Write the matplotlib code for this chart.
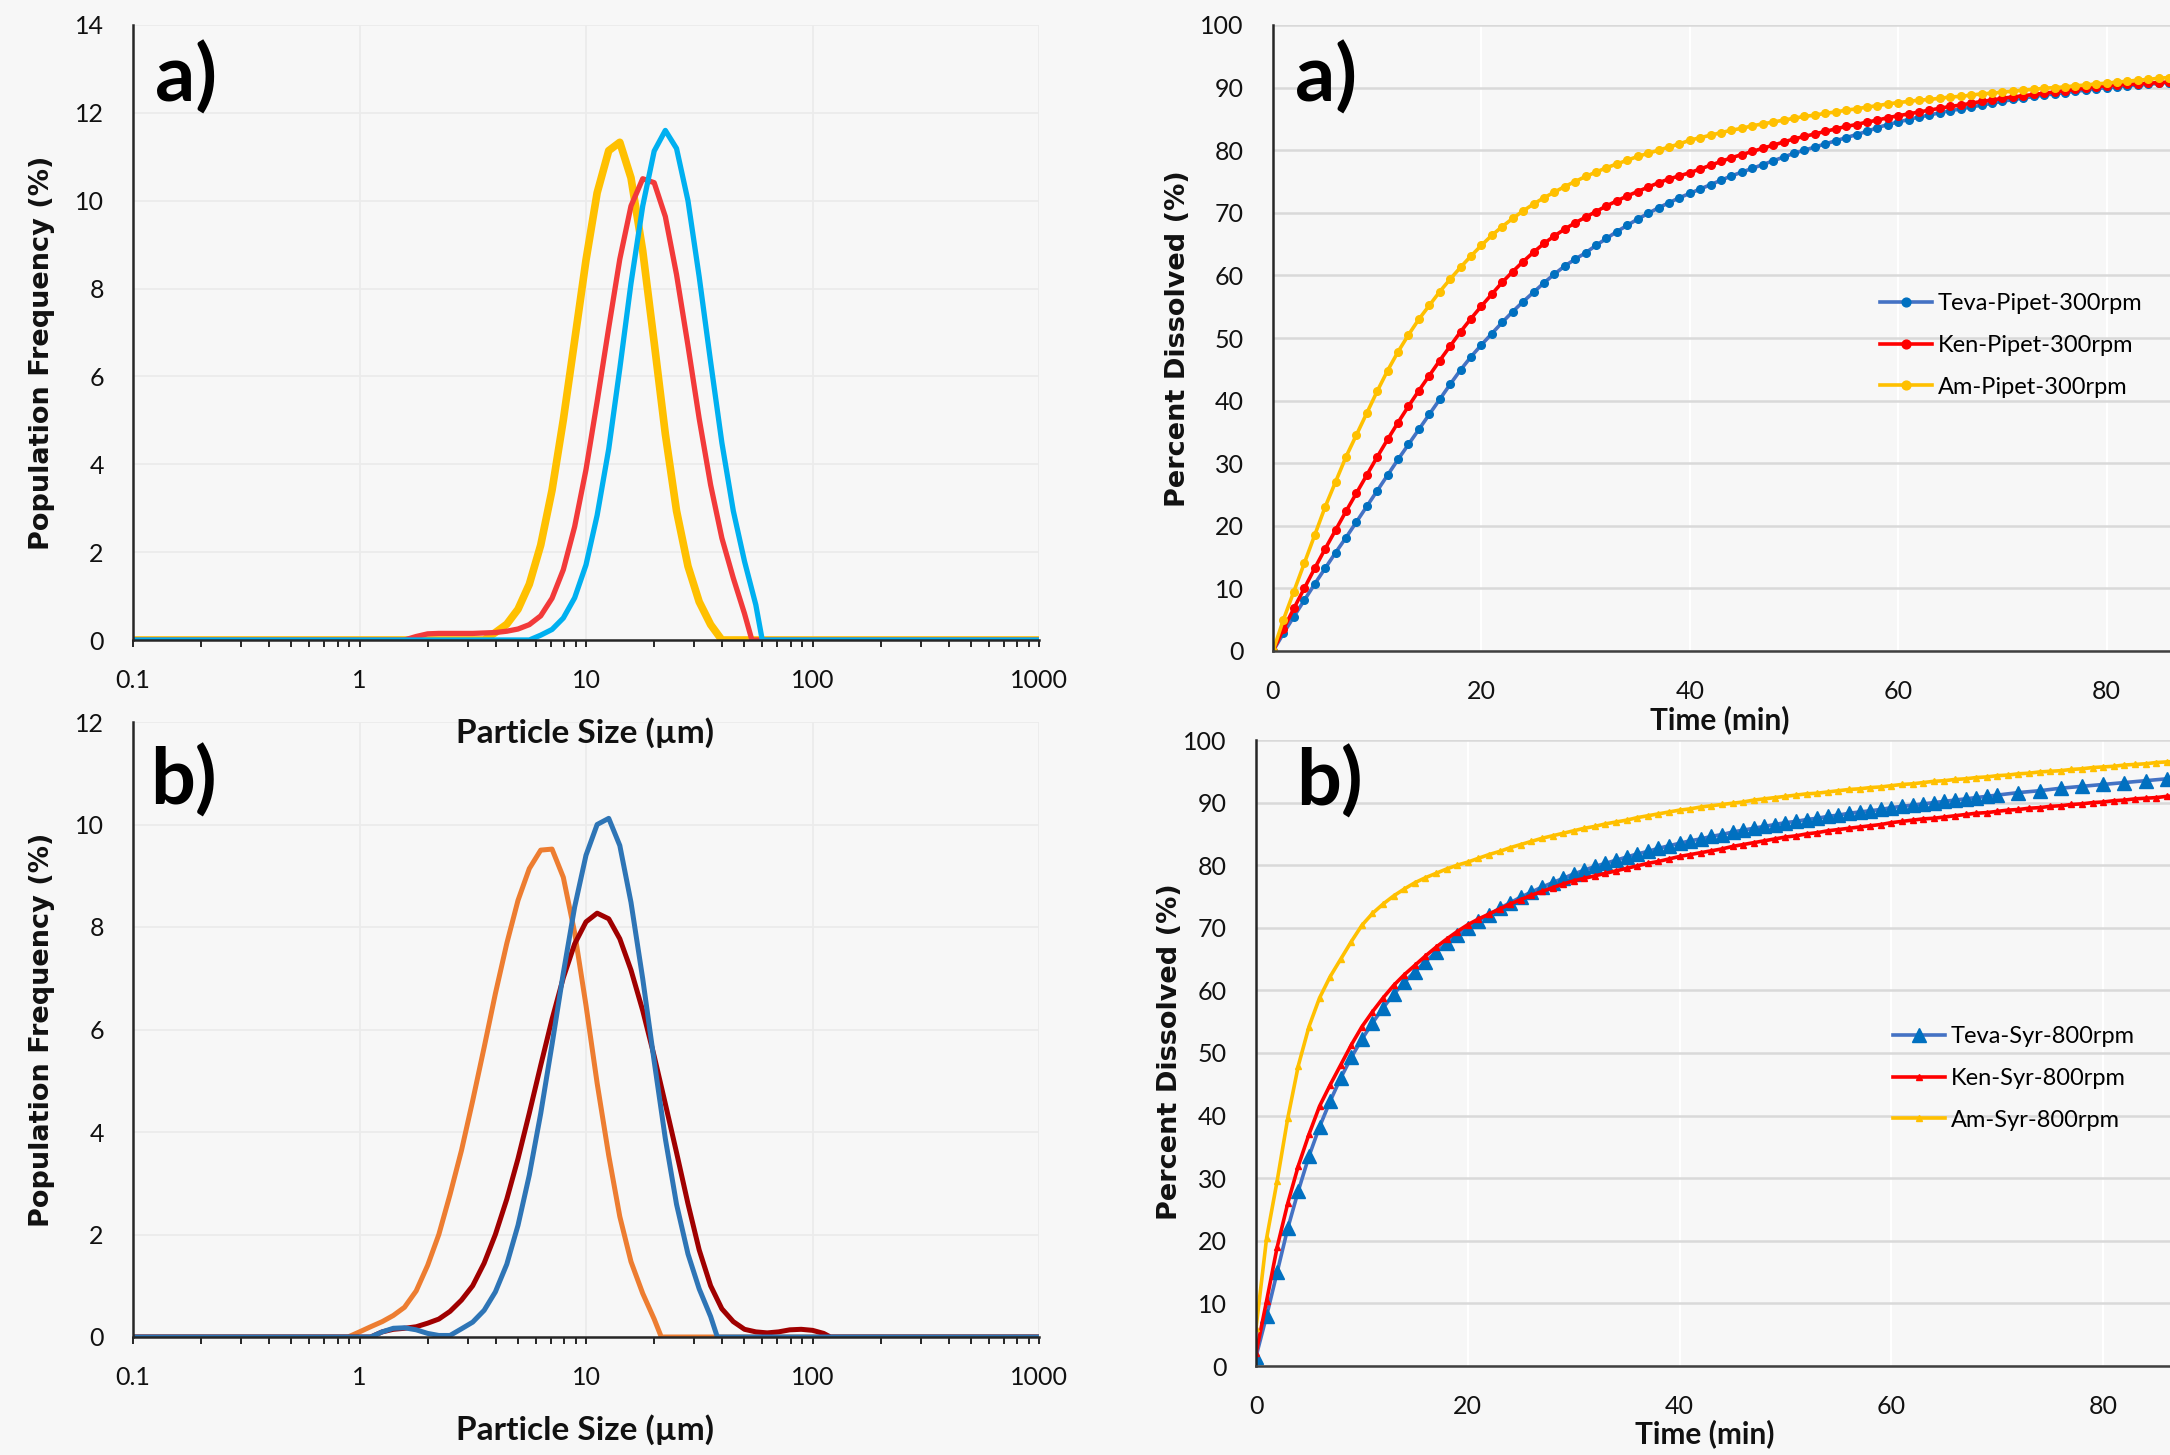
import matplotlib
matplotlib.use('Agg')
import matplotlib.pyplot as plt

W, H = 2170, 1455
BG = '#f7f7f7'

# ---- a) particle size distributions, top left (size in um, frequency in %) ----
size_am_a = [0.1, 3.55, 3.98, 4.47, 5.01, 5.62, 6.31, 7.08, 7.94, 8.91, 10.0, 11.2, 12.6, 14.1,
             15.8, 17.8, 20.0, 22.4, 25.1, 28.2, 31.6, 35.5, 39.8, 1000]
freq_am_a = [0, 0, 0.17, 0.36, 0.70, 1.27, 2.16, 3.41, 5.01, 6.82, 8.65, 10.18, 11.14, 11.33,
             10.52, 8.86, 6.77, 4.69, 2.94, 1.68, 0.87, 0.35, 0, 0]

size_ken_a = [0.1, 1.58, 1.78, 2.0, 2.24, 2.51, 2.82, 3.16, 3.55, 3.98, 4.47, 5.01, 5.62, 6.31,
              7.08, 7.94, 8.91, 10.0, 11.2, 12.6, 14.1, 15.8, 17.8, 20.0, 22.4, 25.1, 28.2,
              31.6, 35.5, 39.8, 44.7, 50.1, 54.0, 1000]
freq_ken_a = [0, 0, 0.08, 0.14, 0.15, 0.15, 0.15, 0.15, 0.16, 0.17, 0.2, 0.25, 0.35, 0.55,
              0.95, 1.6, 2.58, 3.88, 5.43, 7.11, 8.67, 9.88, 10.5, 10.41, 9.64, 8.32, 6.7,
              5.04, 3.53, 2.32, 1.41, 0.6, 0, 0]

size_teva_a = [0.1, 5.62, 6.31, 7.08, 7.94, 8.91, 10.0, 11.2, 12.6, 14.1, 15.8, 17.8, 20.0,
               22.4, 25.1, 28.2, 31.6, 35.5, 39.8, 44.7, 50.1, 56.2, 60.0, 1000]
freq_teva_a = [0, 0, 0.11, 0.24, 0.5, 0.96, 1.71, 2.84, 4.35, 6.18, 8.12, 9.88, 11.13,
               11.6, 11.19, 10.0, 8.27, 6.33, 4.49, 2.94, 1.79, 0.8, 0, 0]

# ---- b) particle size distributions, bottom left ----
size_orange_b = [0.1, 0.89, 1.0, 1.12, 1.26, 1.41, 1.58, 1.78, 2.0, 2.24, 2.51, 2.82, 3.16,
                 3.55, 3.98, 4.47, 5.01, 5.62, 6.31, 7.08, 7.94, 8.91, 10.0, 11.2, 12.6, 14.1,
                 15.8, 17.8, 20.0, 21.5, 1000]
freq_orange_b = [0, 0, 0.1, 0.2, 0.3, 0.42, 0.58, 0.9, 1.4, 2.0, 2.78, 3.64, 4.61,
                 5.65, 6.7, 7.68, 8.52, 9.14, 9.5, 9.52, 8.97, 7.89, 6.47, 4.95, 3.54, 2.35,
                 1.47, 0.85, 0.35, 0, 0]

size_darkred_b = [0.1, 1.12, 1.26, 1.41, 1.58, 1.78, 2.0, 2.24, 2.51, 2.82, 3.16, 3.55, 3.98,
                  4.47, 5.01, 5.62, 6.31, 7.08, 7.94, 8.91, 10.0, 11.2, 12.6, 14.1, 15.8, 17.8,
                  20.0, 22.4, 25.1, 28.2, 31.6, 35.5, 39.8, 44.7, 50.1, 56.2, 63.1, 70.8, 79.4,
                  89.1, 100, 112, 120, 1000]
freq_darkred_b = [0, 0, 0.1, 0.15, 0.17, 0.2, 0.27, 0.35, 0.5, 0.72, 1.0, 1.44, 2.0,
                  2.69, 3.48, 4.37, 5.3, 6.2, 7.01, 7.67, 8.1, 8.27, 8.16, 7.77, 7.16, 6.37,
                  5.48, 4.55, 3.6, 2.6, 1.7, 1.0, 0.55, 0.3, 0.15, 0.1, 0.08, 0.1, 0.14,
                  0.15, 0.13, 0.07, 0, 0]

size_blue_b = [0.1, 1.12, 1.26, 1.41, 1.58, 1.78, 2.0, 2.24, 2.51, 2.82, 3.16, 3.55, 3.98,
               4.47, 5.01, 5.62, 6.31, 7.08, 7.94, 8.91, 10.0, 11.2, 12.6, 14.1, 15.8, 17.8,
               20.0, 22.4, 25.1, 28.2, 31.6, 35.5, 38.0, 1000]
freq_blue_b = [0, 0, 0.1, 0.17, 0.18, 0.14, 0.07, 0.03, 0.03, 0.16, 0.29, 0.52, 0.88,
               1.42, 2.18, 3.16, 4.36, 5.71, 7.1, 8.39, 9.4, 10.0, 10.12, 9.59, 8.48, 6.99,
               5.38, 3.87, 2.59, 1.62, 0.94, 0.4, 0, 0]

# ---- a) dissolution, pipet 300 rpm (time in min, percent dissolved) ----
time_pipet = list(range(0, 88))
teva_pipet = [0, 2.8, 5.5, 8.1, 10.7, 13.2, 15.7, 18.1, 20.6, 23.1,
              25.6, 28.1, 30.6, 33, 35.4, 37.8, 40.2, 42.6, 44.9, 47,
              48.9, 50.7, 52.5, 54.2, 55.8, 57.3, 58.8, 60.2, 61.5, 62.6,
              63.6, 64.8, 65.9, 67, 68, 69, 69.9, 70.8, 71.6, 72.4,
              73.1, 73.8, 74.5, 75.2, 75.9, 76.5, 77.1, 77.7, 78.3, 78.9,
              79.5, 80, 80.5, 81, 81.5, 82, 82.5, 83, 83.6, 84.1,
              84.5, 84.9, 85.3, 85.6, 86, 86.3, 86.6, 86.9, 87.2, 87.5,
              87.8, 88.1, 88.3, 88.6, 88.8, 89, 89.2, 89.4, 89.6, 89.8,
              90, 90.1, 90.3, 90.4, 90.5, 90.7, 90.8, 90.9]
ken_pipet = [0, 3.5, 6.8, 10, 13.2, 16.3, 19.3, 22.3, 25.2, 28.1,
             31, 33.8, 36.5, 39.1, 41.6, 44, 46.4, 48.7, 51, 53.1,
             55.1, 57, 58.9, 60.6, 62.2, 63.7, 65.1, 66.3, 67.4, 68.4,
             69.3, 70.2, 71.1, 71.9, 72.7, 73.4, 74.1, 74.8, 75.4, 75.9,
             76.4, 77, 77.6, 78.2, 78.8, 79.3, 79.8, 80.3, 80.8, 81.3,
             81.8, 82.2, 82.6, 83, 83.4, 83.8, 84.1, 84.5, 84.8, 85.2,
             85.5, 85.8, 86.1, 86.4, 86.7, 87, 87.2, 87.5, 87.8, 88,
             88.3, 88.5, 88.7, 88.9, 89.1, 89.3, 89.5, 89.7, 89.9, 90.1,
             90.3, 90.4, 90.5, 90.6, 90.7, 90.8, 90.9, 91]
am_pipet = [0, 5, 9.5, 14, 18.5, 23, 27, 31, 34.5, 38,
            41.5, 44.8, 47.8, 50.5, 53, 55.2, 57.4, 59.4, 61.3, 63.1,
            64.8, 66.4, 67.8, 69.1, 70.3, 71.4, 72.4, 73.3, 74.2, 75,
            75.8, 76.5, 77.2, 77.8, 78.4, 79, 79.5, 80, 80.5, 81,
            81.6, 82, 82.4, 82.8, 83.2, 83.5, 83.9, 84.2, 84.5, 84.8,
            85.1, 85.4, 85.6, 85.9, 86.1, 86.4, 86.6, 86.9, 87.1, 87.4,
            87.6, 87.8, 88, 88.1, 88.3, 88.5, 88.6, 88.8, 89, 89.1,
            89.3, 89.4, 89.6, 89.7, 89.9, 90, 90.1, 90.3, 90.4, 90.6,
            90.7, 90.9, 91, 91.2, 91.3, 91.5, 91.6, 91.7]

# ---- b) dissolution, syringe 800 rpm ----
time_syr = list(range(0, 88))
time_teva_syr = list(range(0, 71)) + list(range(72, 89, 2))
teva_syr = [1.5, 8, 15, 22, 28, 33.5, 38.2, 42.3, 46, 49.3,
            52.2, 54.8, 57.2, 59.4, 61.3, 63, 64.6, 66.1, 67.5, 68.8,
            70, 71.1, 72.1, 73.1, 74, 74.9, 75.7, 76.5, 77.2, 77.9,
            78.6, 79.2, 79.8, 80.3, 80.8, 81.3, 81.8, 82.2, 82.7, 83.1,
            83.5, 83.9, 84.2, 84.6, 84.9, 85.3, 85.6, 85.9, 86.2, 86.5,
            86.8, 87, 87.3, 87.5, 87.8, 88, 88.3, 88.5, 88.7, 88.9,
            89.2, 89.4, 89.6, 89.8, 90, 90.2, 90.4, 90.6, 90.8, 91, 91.2,
            91.6, 91.9, 92.3, 92.6, 92.9, 93.2, 93.5, 93.8, 94.1]
ken_syr = [2, 10.4, 19, 26, 32, 37, 41.5, 44.9, 48.1, 51.3,
           54.2, 56.6, 58.8, 60.8, 62.5, 64, 65.5, 66.9, 68.2, 69.4,
           70.5, 71.4, 72.2, 73, 73.8, 74.5, 75.2, 75.8, 76.4, 77,
           77.5, 77.9, 78.3, 78.7, 79.1, 79.5, 79.9, 80.3, 80.6, 81,
           81.4, 81.7, 82, 82.3, 82.6, 83, 83.3, 83.6, 83.9, 84.2,
           84.5, 84.7, 85, 85.2, 85.5, 85.7, 85.9, 86.1, 86.3, 86.5,
           86.8, 87, 87.2, 87.4, 87.5, 87.7, 87.9, 88.1, 88.3, 88.4,
           88.6, 88.8, 88.9, 89.1, 89.2, 89.4, 89.5, 89.7, 89.8, 90,
           90.1, 90.3, 90.4, 90.6, 90.7, 90.8, 91, 91.1]
am_syr = [6, 20.4, 29.6, 39.6, 48, 54.2, 58.8, 62.2, 65, 67.8,
          70.4, 72.3, 73.8, 75.1, 76.2, 77.2, 78, 78.7, 79.4, 80,
          80.5, 81.1, 81.7, 82.2, 82.8, 83.3, 83.8, 84.3, 84.7, 85.1,
          85.5, 85.9, 86.2, 86.6, 86.9, 87.2, 87.6, 87.9, 88.2, 88.5,
          88.8, 89, 89.3, 89.5, 89.7, 89.9, 90.1, 90.4, 90.6, 90.8,
          91, 91.2, 91.4, 91.5, 91.7, 91.9, 92.1, 92.2, 92.4, 92.5,
          92.7, 92.9, 93, 93.2, 93.4, 93.5, 93.7, 93.8, 94, 94.1,
          94.3, 94.4, 94.6, 94.7, 94.9, 95, 95.1, 95.3, 95.4, 95.6,
          95.7, 95.8, 96, 96.1, 96.2, 96.4, 96.5, 96.6]

size_ticks = [0.1, 1, 10, 100, 1000]
size_tick_labels = ['0.1', '1', '10', '100', '1000']

plt.rcParams['font.family'] = ['Lato', 'DejaVu Sans']

TICK_FS = 18


def px_axes(fig, left, top, right, bottom):
    """Add axes from pixel edges of the 2170x1455 canvas."""
    return fig.add_axes([left / W, 1 - bottom / H, (right - left) / W, (bottom - top) / H])


def fig_text(fig, x, y, s, **kw):
    fig.text(x / W, 1 - y / H, s, **kw)


def style_axes(ax):
    ax.set_facecolor(BG)
    ax.spines['top'].set_visible(False)
    ax.spines['right'].set_visible(False)
    for side in ('left', 'bottom'):
        ax.spines[side].set_color('#262626')
        ax.spines[side].set_linewidth(1.8)
    ax.set_axisbelow(True)
    ax.tick_params(labelsize=TICK_FS, labelcolor='#111111')


def style_psd(ax, ymax):
    style_axes(ax)
    ax.set_xscale('log')
    ax.set_xlim(0.1, 1000)
    ax.set_ylim(0, ymax)
    ax.set_yticks(range(0, ymax + 1, 2))
    ax.set_xticks(size_ticks)
    ax.set_xticklabels(size_tick_labels)
    ax.grid(True, which='major', color='#ebebeb', lw=1.3)
    ax.grid(False, which='minor')
    ax.tick_params(axis='y', length=0, pad=21)
    ax.tick_params(axis='x', which='both', direction='out', length=5, width=1.4,
                   color='#262626', pad=16)


def style_diss(ax):
    style_axes(ax)
    ax.set_xlim(0, 100)
    ax.set_ylim(0, 100)
    # the source is cropped at about 86 min, so the 100 label is not shown
    ax.set_xticks(range(0, 81, 20))
    ax.set_yticks(range(0, 101, 10))
    ax.yaxis.grid(True, color='#d9d9d9', lw=1.8)
    ax.xaxis.grid(True, color='white', lw=1.5)
    ax.tick_params(axis='y', length=0, pad=21)
    ax.tick_params(axis='x', length=0, pad=21)
    ax.spines['bottom'].set_color('#404040')


fig = plt.figure(figsize=(W / 100, H / 100), dpi=100, facecolor=BG)

# top left: particle size a)
ax1 = px_axes(fig, 133, 25, 1039, 640)
style_psd(ax1, 14)
ax1.plot(size_am_a, freq_am_a, color='#ffc000', lw=5.5, solid_capstyle='round')
ax1.plot(size_ken_a, freq_ken_a, color='#f23a3a', lw=3.8)
ax1.plot(size_teva_a, freq_teva_a, color='#00b0f0', lw=3.8)

# bottom left: particle size b)
ax2 = px_axes(fig, 133, 722, 1039, 1337)
style_psd(ax2, 12)
ax2.plot(size_orange_b, freq_orange_b, color='#ed7d31', lw=3.6)
ax2.plot(size_darkred_b, freq_darkred_b, color='#a00000', lw=3.6)
ax2.plot(size_blue_b, freq_blue_b, color='#2e75b6', lw=3.6)

leg_kw = dict(bbox_transform=fig.transFigure, frameon=False, fontsize=17,
              handlelength=2.2, handletextpad=0.25, labelspacing=0.88, borderpad=0,
              borderaxespad=0, loc='upper left')

# top right: dissolution a) (axis runs past the canvas edge, as in the source)
ax3 = px_axes(fig, 1273, 25, 1273 + 1042, 651)
style_diss(ax3)
ax3.plot(time_pipet, teva_pipet, color='#4472c4', lw=2.6, marker='o', ms=5.5,
         mfc='#0070c0', mec='#0070c0', label='Teva-Pipet-300rpm')
ax3.plot(time_pipet, ken_pipet, color='#ff0000', lw=2.6, marker='o', ms=5.5,
         mfc='#ff0000', mec='#ff0000', label='Ken-Pipet-300rpm')
ax3.plot(time_pipet, am_pipet, color='#ffc000', lw=2.6, marker='o', ms=5.5,
         mfc='#ffc000', mec='#ffc000', label='Am-Pipet-300rpm')
ax3.legend(bbox_to_anchor=(1880 / W, 1 - 293 / H), markerscale=1.15, **leg_kw)

# bottom right: dissolution b)
ax4 = px_axes(fig, 1256, 740, 1256 + 1059, 1366)
style_diss(ax4)
ax4.plot(time_teva_syr, teva_syr, color='#4472c4', lw=2.6, marker='^', ms=10,
         mfc='#0070c0', mec='#0070c0', label='Teva-Syr-800rpm')
ax4.plot(time_syr, ken_syr, color='#ff0000', lw=2.6, marker='^', ms=5,
         mfc='#ff0000', mec='#ff0000', label='Ken-Syr-800rpm')
ax4.plot(time_syr, am_syr, color='#ffc000', lw=2.6, marker='^', ms=5,
         mfc='#ffc000', mec='#ffc000', label='Am-Syr-800rpm')
ax4.legend(bbox_to_anchor=(1893 / W, 1 - 1026 / H), **leg_kw)

# axis titles
ylab = dict(rotation=90, ha='center', va='center', fontsize=19.5, fontweight='bold',
            family='DejaVu Sans', color='#111111')
fig_text(fig, 42, 353, 'Population Frequency (%)', **ylab)
fig_text(fig, 42, 1030, 'Population Frequency (%)', **ylab)
fig_text(fig, 1178, 339, 'Percent Dissolved (%)', **ylab)
fig_text(fig, 1170, 1052, 'Percent Dissolved (%)', **ylab)

xlab = dict(ha='center', va='center', fontweight='bold', color='#111111')
fig_text(fig, 585, 733, 'Particle Size (\u00b5m)', fontsize=24, **xlab)
fig_text(fig, 585, 1430, 'Particle Size (\u00b5m)', fontsize=24, **xlab)
fig_text(fig, 1720, 720, 'Time (min)', fontsize=21.5, **xlab)
fig_text(fig, 1705, 1434, 'Time (min)', fontsize=21.5, **xlab)

# panel letters
panel = dict(ha='left', va='baseline', fontsize=57, fontweight='bold', color='black')
fig_text(fig, 155, 102, 'a)', **panel)
fig_text(fig, 1295, 102, 'a)', **panel)
fig_text(fig, 150, 805, 'b)', **panel)
fig_text(fig, 1296, 806, 'b)', **panel)

fig.savefig('out.png', dpi=100, facecolor=BG)
